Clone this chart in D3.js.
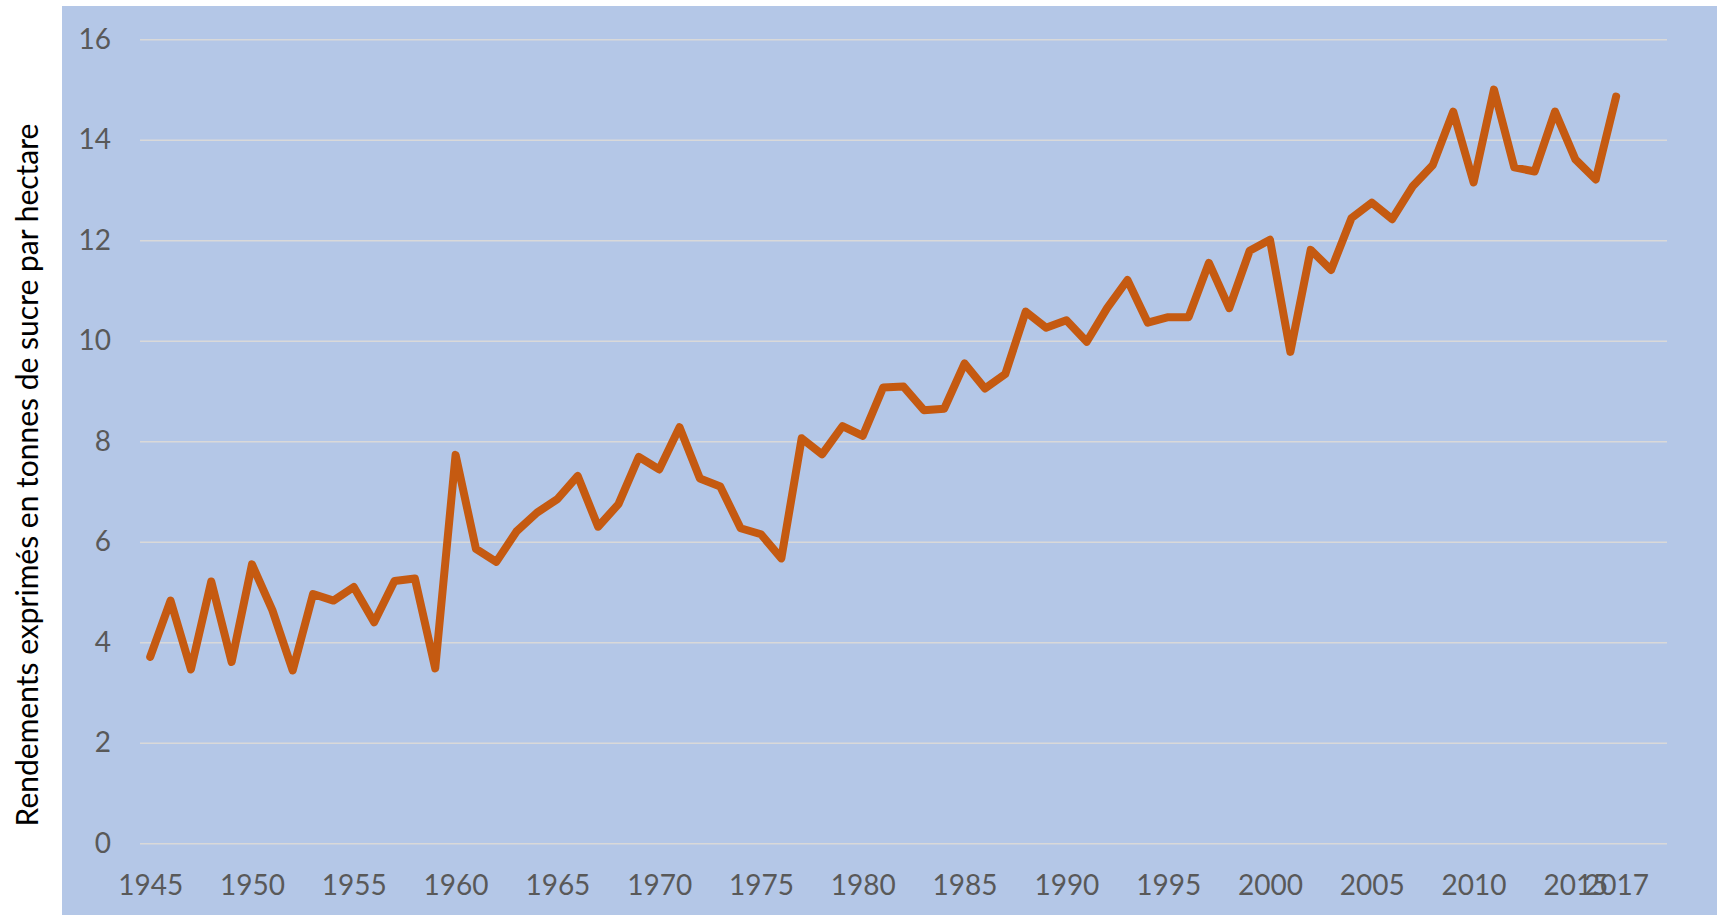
<!DOCTYPE html>
<html>
<head>
<meta charset="utf-8">
<script src="https://cdn.jsdelivr.net/npm/d3@7"></script>
<style>
    body { margin: 0; background: #ffffff; }
    svg { display: block; }
</style>
</head>
<body>
<div id="chart"></div>
<script>
var years = [1945, 1946, 1947, 1948, 1949, 1950, 1951, 1952, 1953, 1954,
    1955, 1956, 1957, 1958, 1959, 1960, 1961, 1962, 1963, 1964,
    1965, 1966, 1967, 1968, 1969, 1970, 1971, 1972, 1973, 1974,
    1975, 1976, 1977, 1978, 1979, 1980, 1981, 1982, 1983, 1984,
    1985, 1986, 1987, 1988, 1989, 1990, 1991, 1992, 1993, 1994,
    1995, 1996, 1997, 1998, 1999, 2000, 2001, 2002, 2003, 2004,
    2005, 2006, 2007, 2008, 2009, 2010, 2011, 2012, 2013, 2014,
    2015, 2016, 2017];

// rendements (t de sucre / ha)
var rendements = [3.71, 4.83, 3.46, 5.21, 3.61, 5.55, 4.64, 3.44, 4.96, 4.83,
    5.10, 4.40, 5.22, 5.27, 3.48, 7.73, 5.86, 5.60, 6.21, 6.58,
    6.85, 7.31, 6.30, 6.75, 7.69, 7.44, 8.28, 7.26, 7.10, 6.27,
    6.15, 5.67, 8.06, 7.74, 8.30, 8.11, 9.07, 9.09, 8.62, 8.65,
    9.55, 9.05, 9.34, 10.58, 10.26, 10.41, 9.98, 10.65, 11.21, 10.36,
    10.47, 10.47, 11.55, 10.65, 11.79, 12.01, 9.78, 11.81, 11.41, 12.44,
    12.75, 12.42, 13.07, 13.50, 14.56, 13.15, 15.00, 13.45, 13.37, 14.56,
    13.61, 13.21, 14.86];

var yTicks = [0, 2, 4, 6, 8, 10, 12, 14, 16];
var xTicks = [1945, 1950, 1955, 1960, 1965, 1970, 1975, 1980, 1985, 1990,
    1995, 2000, 2005, 2010, 2015, 2017];
var yTitle = "Rendements exprimés en tonnes de sucre par hectare";

function draw_Rendements() {
    "use strict";
    var width = 1717, height = 915;
    var left = 140, right = 1667, top = 39.3, bottom = 843.3;

    var svg = d3.select("#chart")
        .append("svg")
        .attr("width", width)
        .attr("height", height);

    // fond bleu de la zone du graphique
    svg.append("rect")
        .attr("x", 62)
        .attr("y", 6)
        .attr("width", width - 62)
        .attr("height", height - 6)
        .style("fill", "#B4C7E7");

    var x = d3.scaleLinear().domain([1944.5, 2019.5]).range([left, right]);
    var y = d3.scaleLinear().domain([0, 16]).range([bottom, top]);

    var grid = svg.append("g")
        .attr("transform", "translate(" + left + ",0)")
        .call(d3.axisLeft(y).tickValues(yTicks).tickSize(-(right - left)).tickFormat(""));
    grid.select(".domain").remove();
    grid.selectAll("line")
        .style("stroke", "#D9D9D9")
        .style("stroke-width", "1.5px");

    var yAxis = svg.append("g")
        .attr("transform", "translate(" + left + ",0)")
        .call(d3.axisLeft(y).tickValues(yTicks).tickSize(0).tickPadding(29));
    yAxis.select(".domain").remove();
    yAxis.selectAll("text")
        .style("font-family", "Lato, sans-serif")
        .style("font-size", "28px")
        .style("fill", "#595959");

    var xAxis = svg.append("g")
        .attr("transform", "translate(0," + bottom + ")")
        .call(d3.axisBottom(x).tickValues(xTicks).tickSize(0).tickFormat(d3.format("d")));
    xAxis.select(".domain").remove();
    xAxis.selectAll("text")
        .attr("y", 42)
        .attr("dy", "0.35em")
        .style("font-family", "Lato, sans-serif")
        .style("font-size", "28px")
        .style("fill", "#595959");

    var data = years.map(function (d, i) {
        return {annee: d, valeur: rendements[i]};
    });

    var line = d3.line()
        .x(function (d) { return x(d.annee); })
        .y(function (d) { return y(d.valeur); });

    svg.append("path")
        .datum(data)
        .attr("d", line)
        .style("fill", "none")
        .style("stroke", "#C55A11")
        .style("stroke-width", "8px")
        .style("stroke-linejoin", "round")
        .style("stroke-linecap", "round");

    svg.append("text")
        .attr("transform", "translate(27," + 475 + ") rotate(-90)")
        .attr("text-anchor", "middle")
        .attr("dy", "0.35em")
        .style("font-family", "Lato, sans-serif")
        .style("font-size", "30px")
        .style("fill", "#000000")
        .text(yTitle);
}

draw_Rendements();
</script>
</body>
</html>
